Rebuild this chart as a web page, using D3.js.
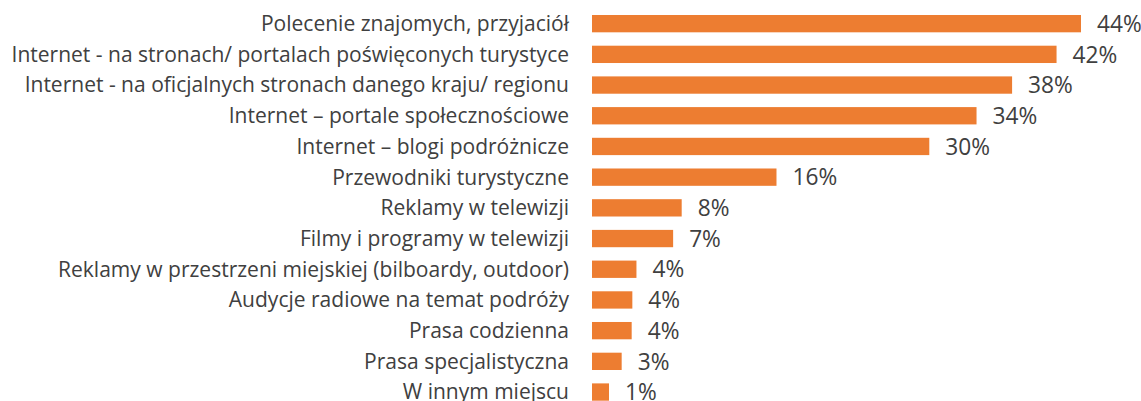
<!DOCTYPE html>
<html>
<head>
<meta charset="utf-8">
<script src="https://cdn.jsdelivr.net/npm/d3@7"></script>
<style>
  html, body { margin: 0; padding: 0; background: #ffffff; }
  svg { display: block; }
  text { font-family: "Open Sans", "Noto Sans", sans-serif; fill: #404040; }
</style>
</head>
<body>
<svg id="chart" width="1141" height="401"></svg>
<script>
const categories = [
  "Polecenie znajomych, przyjaciół",
  "Internet - na stronach/ portalach poświęconych turystyce",
  "Internet - na oficjalnych stronach danego kraju/ regionu",
  "Internet – portale społecznościowe",
  "Internet – blogi podróżnicze",
  "Przewodniki turystyczne",
  "Reklamy w telewizji",
  "Filmy i programy w telewizji",
  "Reklamy w przestrzeni miejskiej (bilboardy, outdoor)",
  "Audycje radiowe na temat podróży",
  "Prasa codzienna",
  "Prasa specjalistyczna",
  "W innym miejscu"
];
const values = [44, 41.8, 37.8, 34.6, 30.35, 16.6, 8.07, 7.3, 4.0, 3.63, 3.57, 2.67, 1.53];
const valueLabels = ["44%", "42%", "38%", "34%", "30%", "16%", "8%", "7%", "4%", "4%", "4%", "3%", "1%"];

const svg = d3.select("#chart");
const x = d3.scaleLinear().domain([0, 44]).range([592, 1081]);
const y = d3.scaleBand().domain(categories).range([15, 400.7]).paddingInner(0.436).paddingOuter(0);

const data = categories.map((c, i) => ({ c, v: values[i], l: valueLabels[i] }));

svg.append("g").selectAll("rect").data(data).join("rect")
  .attr("x", x(0))
  .attr("y", d => y(d.c))
  .attr("width", d => x(d.v) - x(0))
  .attr("height", y.bandwidth())
  .attr("fill", "#ED7D31");

const labels = svg.append("g").selectAll("text").data(data).join("text")
  .attr("x", 569)
  .attr("y", d => y(d.c) + y.bandwidth() / 2)
  .attr("dy", "0.35em")
  .attr("text-anchor", "end")
  .style("font-size", "20px")
  .text(d => d.c);

// fit label font so the longest label spans the reference width
let maxW = 0;
labels.each(function () { maxW = Math.max(maxW, this.getComputedTextLength()); });
const fs = 20 * 558 / maxW;
labels.style("font-size", fs + "px");

svg.append("g").selectAll("text").data(data).join("text")
  .attr("x", d => x(d.v) + 16)
  .attr("y", d => y(d.c) + y.bandwidth() / 2)
  .attr("dy", "0.36em")
  .style("font-size", (fs * 1.08) + "px")
  .text(d => d.l);
</script>
</body>
</html>
